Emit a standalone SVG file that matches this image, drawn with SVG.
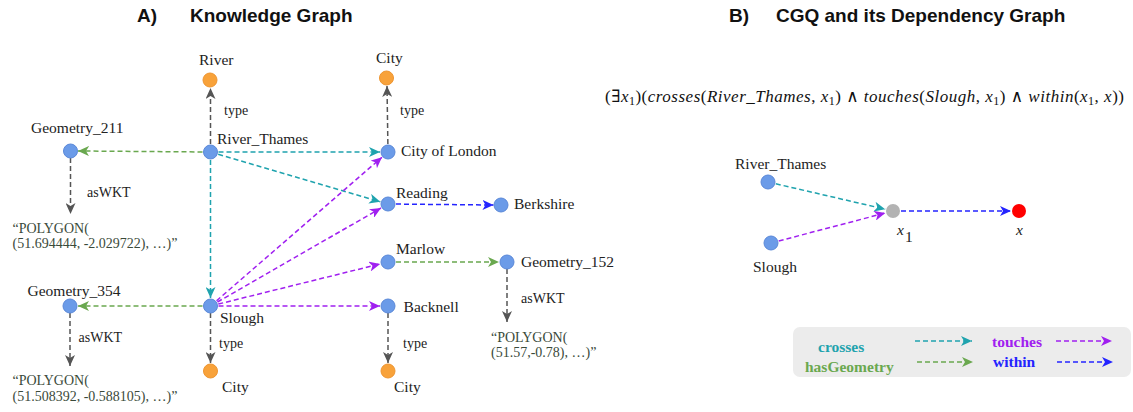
<svg xmlns="http://www.w3.org/2000/svg" width="1133" height="412" viewBox="0 0 1133 412">
<style>
.t{font-family:'Liberation Serif','DejaVu Serif','Times New Roman',serif;font-size:15.5px;fill:#222}
.s{font-family:'Liberation Serif','DejaVu Serif','Times New Roman',serif;font-size:14px;fill:#222}
.p{font-family:'Liberation Serif','DejaVu Serif','Times New Roman',serif;font-size:14px;fill:#3a4a3a}
.h{font-family:'Liberation Sans',Arial,sans-serif;font-size:19px;font-weight:bold;fill:#111}
.m{font-family:'Liberation Serif','DejaVu Serif','Times New Roman',serif;font-size:17px;fill:#111}
.lg{font-family:'Liberation Serif','DejaVu Serif','Times New Roman',serif;font-size:15.5px;font-weight:bold}
.e{fill:none;stroke-width:1.5;stroke-dasharray:5 3}
.gray{stroke:#555}
.teal{stroke:#1fa3ae}
.green{stroke:#6aa84f}
.purple{stroke:#a020f0}
.blue{stroke:#2424ff}
.nb{fill:#6b9be8;stroke:#5a88d8;stroke-width:1}
.no{fill:#f8a23a;stroke:#ee9530;stroke-width:1}
</style>
<defs>
<marker id="aGray" markerUnits="userSpaceOnUse" markerWidth="12" markerHeight="10" refX="11" refY="5" orient="auto"><path d="M0,0 L11,5 L0,10 L3,5 z" fill="#555"/></marker>
<marker id="aTeal" markerUnits="userSpaceOnUse" markerWidth="12" markerHeight="10" refX="11" refY="5" orient="auto"><path d="M0,0 L11,5 L0,10 L3,5 z" fill="#1fa3ae"/></marker>
<marker id="aGreen" markerUnits="userSpaceOnUse" markerWidth="12" markerHeight="10" refX="11" refY="5" orient="auto"><path d="M0,0 L11,5 L0,10 L3,5 z" fill="#6aa84f"/></marker>
<marker id="aPurple" markerUnits="userSpaceOnUse" markerWidth="12" markerHeight="10" refX="11" refY="5" orient="auto"><path d="M0,0 L11,5 L0,10 L3,5 z" fill="#a020f0"/></marker>
<marker id="aBlue" markerUnits="userSpaceOnUse" markerWidth="12" markerHeight="10" refX="11" refY="5" orient="auto"><path d="M0,0 L11,5 L0,10 L3,5 z" fill="#2424ff"/></marker>
</defs>
<rect width="1133" height="412" fill="#fff"/>
<g id="titles">
<text class="h" x="137" y="22">A)</text>
<text class="h" x="190" y="22">Knowledge Graph</text>
<text class="h" x="729" y="22">B)</text>
<text class="h" x="776" y="22">CGQ and its Dependency Graph</text>
</g>
<g id="formula">
<text class="m" x="605" y="102" textLength="519" lengthAdjust="spacing">(∃<tspan font-style="italic">x</tspan><tspan font-size="12" dy="3">1</tspan><tspan dy="-3">)(</tspan><tspan font-style="italic">crosses</tspan>(<tspan font-style="italic">River_Thames</tspan>, <tspan font-style="italic">x</tspan><tspan font-size="12" dy="3">1</tspan><tspan dy="-3">) ∧ </tspan><tspan font-style="italic">touches</tspan>(<tspan font-style="italic">Slough</tspan>, <tspan font-style="italic">x</tspan><tspan font-size="12" dy="3">1</tspan><tspan dy="-3">) ∧ </tspan><tspan font-style="italic">within</tspan>(<tspan font-style="italic">x</tspan><tspan font-size="12" dy="3">1</tspan><tspan dy="-3">, </tspan><tspan font-style="italic">x</tspan>))</text>
</g>
<g id="connectors">
<path class="e gray" d="M210.5,152 L210.5,88" marker-end="url(#aGray)"/>
<path class="e gray" d="M388,152 L387,86" marker-end="url(#aGray)"/>
<path class="e green" d="M210.5,152 L78,151" marker-end="url(#aGreen)"/>
<path class="e teal" d="M210.5,152 L380,152" marker-end="url(#aTeal)"/>
<path class="e teal" d="M210.5,152 L380.3,201.8" marker-end="url(#aTeal)"/>
<path class="e teal" d="M210.5,152 L210.5,298" marker-end="url(#aTeal)"/>
<path class="e blue" d="M388,204 L493.5,205" marker-end="url(#aBlue)"/>
<path class="e purple" d="M210.5,306 L382,157.2" marker-end="url(#aPurple)"/>
<path class="e purple" d="M210.5,306 L381,208" marker-end="url(#aPurple)"/>
<path class="e purple" d="M210.5,306 L380.2,263.9" marker-end="url(#aPurple)"/>
<path class="e purple" d="M210.5,306 L380,306" marker-end="url(#aPurple)"/>
<path class="e green" d="M210.5,306 L78,306" marker-end="url(#aGreen)"/>
<path class="e green" d="M388,262 L499,262" marker-end="url(#aGreen)"/>
<path class="e gray" d="M70.5,158 L70.5,214" marker-end="url(#aGray)"/>
<path class="e gray" d="M70,313 L70,366" marker-end="url(#aGray)"/>
<path class="e gray" d="M210.5,313 L210.5,363" marker-end="url(#aGray)"/>
<path class="e gray" d="M388,313 L388,363" marker-end="url(#aGray)"/>
<path class="e gray" d="M507,269 L507,322" marker-end="url(#aGray)"/>
<path class="e teal" d="M768,182 L885.2,209.2" marker-end="url(#aTeal)"/>
<path class="e purple" d="M771,243 L885.3,213" marker-end="url(#aPurple)"/>
<path class="e blue" d="M893,211 L1011,211" marker-end="url(#aBlue)"/>
</g>
<g id="edge-labels">
<text class="s" x="224" y="115">type</text>
<text class="s" x="400" y="115">type</text>
<text class="s" x="87" y="197">asWKT</text>
<text class="s" x="78.6" y="342">asWKT</text>
<text class="s" x="219" y="348">type</text>
<text class="s" x="403" y="348">type</text>
<text class="s" x="521" y="303">asWKT</text>
</g>
<g id="n-river"><circle class="no" cx="210" cy="80" r="7"/><text class="t" x="199" y="65">River</text></g>
<g id="n-city-top"><circle class="no" cx="386.5" cy="78" r="7"/><text class="t" x="376" y="63">City</text></g>
<g id="n-geometry211"><circle class="nb" cx="70.5" cy="151" r="7"/><text class="t" x="31" y="133" font-size="14.5">Geometry_211</text></g>
<g id="n-river-thames"><circle class="nb" cx="210.5" cy="152" r="7"/><text class="t" x="217" y="144">River_Thames</text></g>
<g id="n-city-of-london"><circle class="nb" cx="388" cy="152" r="7"/><text class="t" x="401" y="156">City of London</text></g>
<g id="n-reading"><circle class="nb" cx="388" cy="204" r="7"/><text class="t" x="396" y="198">Reading</text></g>
<g id="n-berkshire"><circle class="nb" cx="501" cy="205" r="7"/><text class="t" x="514" y="209">Berkshire</text></g>
<g id="n-marlow"><circle class="nb" cx="388" cy="262" r="7"/><text class="t" x="396" y="254">Marlow</text></g>
<g id="n-geometry152"><circle class="nb" cx="507" cy="262" r="7"/><text class="t" x="521" y="267" font-size="14.5">Geometry_152</text></g>
<g id="n-geometry354"><circle class="nb" cx="70" cy="306" r="7"/><text class="t" x="27.5" y="296" font-size="14.5">Geometry_354</text></g>
<g id="n-slough"><circle class="nb" cx="210.5" cy="306" r="7"/><text class="t" x="220" y="323">Slough</text></g>
<g id="n-backnell"><circle class="nb" cx="388" cy="306" r="7"/><text class="t" x="403.6" y="312">Backnell</text></g>
<g id="n-city-bl"><circle class="no" cx="210.5" cy="371" r="7"/><text class="t" x="222" y="392">City</text></g>
<g id="n-city-br"><circle class="no" cx="388" cy="371" r="7"/><text class="t" x="394" y="392">City</text></g>
<g id="n-poly211"><text class="p" x="12.5" y="233">“POLYGON(</text><text class="p" x="12.5" y="248">(51.694444, -2.029722), …)”</text></g>
<g id="n-poly354"><text class="p" x="12.5" y="385">“POLYGON(</text><text class="p" x="12.5" y="401">(51.508392, -0.588105), …)”</text></g>
<g id="n-poly152"><text class="p" x="491" y="342">“POLYGON(</text><text class="p" x="491" y="357">(51.57,-0.78), …)”</text></g>
<g id="q-river-thames"><circle class="nb" cx="768" cy="182" r="7"/><text class="t" x="735" y="169">River_Thames</text></g>
<g id="q-slough"><circle class="nb" cx="771" cy="243" r="7"/><text class="t" x="753" y="272">Slough</text></g>
<g id="q-x1"><circle cx="893" cy="211" r="7" fill="#b3b3b3"/><text class="t" x="897" y="235" font-style="italic">x</text><text class="t" x="905" y="242" font-size="11">1</text></g>
<g id="q-x"><circle cx="1019" cy="211" r="7" fill="#ff0000"/><text class="t" x="1016" y="235" font-style="italic">x</text></g>
<g id="legend">
<rect x="793" y="327" width="338" height="50" rx="7" fill="#ececec"/>
<text class="lg" x="818" y="352" fill="#1fa3ae">crosses</text>
<text class="lg" x="805" y="372" fill="#6aa84f">hasGeometry</text>
<text class="lg" x="992" y="347" fill="#a020f0">touches</text>
<text class="lg" x="993" y="367" fill="#2424ff">within</text>
<path class="e teal" d="M915,341 L972,341" marker-end="url(#aTeal)"/>
<path class="e green" d="M917,362 L973,362" marker-end="url(#aGreen)"/>
<path class="e purple" d="M1056,341 L1112,341" marker-end="url(#aPurple)"/>
<path class="e blue" d="M1057,362 L1113,362" marker-end="url(#aBlue)"/>
</g>
</svg>
